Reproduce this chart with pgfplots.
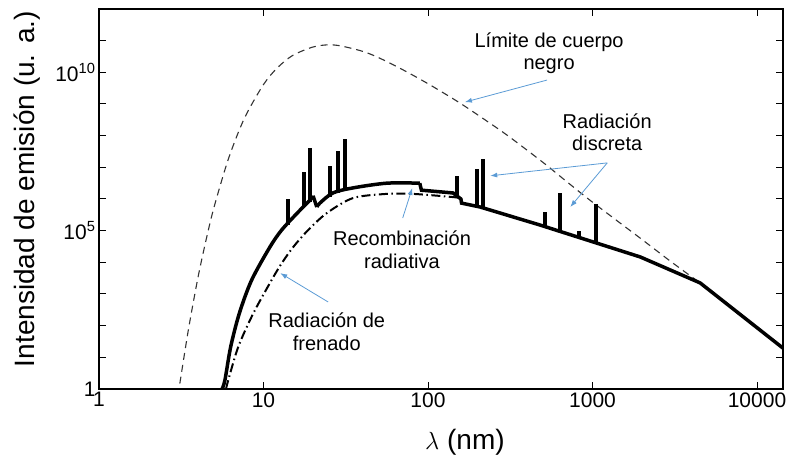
\documentclass[border=0pt]{standalone}
\usepackage{fontspec}
\setmainfont{Liberation Sans}
\usepackage{pgfplots}
\pgfplotsset{compat=1.18}
\usetikzlibrary{arrows.meta}
\definecolor{arrowblue}{RGB}{91,155,213}

\begin{document}
\begin{tikzpicture}
\begin{axis}[
  name=ax,
  scale only axis, width=684bp, height=380bp,
  xmode=log, ymode=log,
  xmin=1, xmax=14390, ymin=1, ymax=1e12,
  xtick={1,10,100,1000,10000}, xticklabels={1,10,100,1000,10000},
  ytick={1,10,100,1e3,1e4,1e5,1e6,1e7,1e8,1e9,1e10,1e11,1e12},
  yticklabels={1,,,,,10\textsuperscript{5},,,,,10\textsuperscript{10},,},
  xminorticks=false, yminorticks=false,
  tick align=inside, major tick length=7bp,
  tick style={black, line width=1bp},
  axis line style={line width=1.2bp},
  tick label style={font=\fontsize{21bp}{25bp}\selectfont},
  xlabel={$\lambda$ (nm)}, ylabel={Intensidad de emisión (u. a.)},
  label style={font=\fontsize{28bp}{32bp}\selectfont},
  xlabel style={at={(axis description cs:0.535,-0.1395)}, anchor=center},
  ylabel style={at={(axis description cs:-0.1045,0.526)}, anchor=center},
]
% blackbody limit
\addplot[black!80, line width=1.1bp, dash pattern=on 7bp off 5bp, smooth] coordinates {
(3.1,1.48) (3.5,77.6) (4,3390) (4.5,5.75e4) (5,5.43e5) (6,1.36e7) (7,1.20e8) (8,5.62e8)
(10,4.12e9) (12,1.31e10) (15,3.39e10) (20,6.31e10) (25,7.41e10) (30,6.70e10) (40,4.61e10)
(50,2.92e10) (70,1.22e10) (100,4.37e9) (150,1.23e9) (200,4.57e8) (300,1.07e8) (500,1.43e7)
(700,3.47e6) (1000,7.94e5) (2000,5.25e4) (3000,1.05e4) (4510,2240)
};
% bremsstrahlung (dash-dot)
\addplot[black, line width=2bp, dash pattern=on 9bp off 3.5bp on 1.5bp off 3.5bp, smooth] coordinates {
(5.92,1) (6.11,1.92) (7.03,21.7) (8.67,245) (11.2,2750) (12.9,9330) (15.2,3.09e4)
(18.7,1.05e5) (24.2,3.55e5) (35.0,1.07e6) (56.2,1.45e6) (81.1,1.45e6) (142,1.15e6) (155,1.07e6)
};
% total emission, rising part
\addplot[black, line width=3.5bp, smooth] coordinates {
(5.60,1) (5.83,1.92) (6.32,21.7) (7.13,245) (8.47,2750) (10.96,3.09e4)
(12.9,1.05e5) (16.0,3.55e5) (19.2,9.33e5) (20.0,1.26e6)
};
\addplot[black, line width=3.5bp] coordinates {(20.0,1.26e6) (21.1,5.6e5)};
\addplot[black, line width=3.5bp, smooth] coordinates {
(21.1,5.6e5) (22.0,7.4e5) (26.4,1.55e6) (35.0,2.24e6) (56.2,3.16e6) (89.1,3.16e6)
};
\addplot[black, line width=3.5bp] coordinates {
(89.1,3.16e6) (91.2,1.9e6) (142,1.55e6) (158.5,1.0e6) (160,7.4e5) (207,5.6e5)
(479,1.51e5) (1950,14800) (4510,2240) (14390,19.5)
};
% discrete lines
\addplot[black, line width=3.5bp] coordinates {(14.1,1.5e5) (14.1,1.0e6)};
\addplot[black, line width=3.5bp] coordinates {(17.6,5.5e5) (17.6,7.08e6)};
\addplot[black, line width=3.5bp] coordinates {(19.2,8.0e5) (19.2,4.07e7)};
\addplot[black, line width=3.5bp] coordinates {(25.4,1.12e6) (25.4,1.10e7)};
\addplot[black, line width=3.5bp] coordinates {(28.4,1.58e6) (28.4,3.31e7)};
\addplot[black, line width=3.5bp] coordinates {(31.3,1.78e6) (31.3,7.76e7)};
\addplot[black, line width=3.5bp] coordinates {(150,1.26e6) (150,5.37e6)};
\addplot[black, line width=3.5bp] coordinates {(199,5.25e5) (199,8.91e6)};
\addplot[black, line width=3.5bp] coordinates {(216,4.79e5) (216,1.82e7)};
\addplot[black, line width=3.5bp] coordinates {(514,1.26e5) (514,3.89e5)};
\addplot[black, line width=3.5bp] coordinates {(634,8.9e4) (634,1.55e6)};
\addplot[black, line width=3.5bp] coordinates {(828,5.75e4) (828,9.77e4)};
\addplot[black, line width=3.5bp] coordinates {(1050,3.8e4) (1050,6.92e5)};
% tick marks on all four sides
\pgfplotsinvokeforeach{0,0.083333,0.166667,0.25,0.333333,0.416667,0.5,0.583333,0.666667,0.75,0.833333,0.916667,1}{
  \draw[black, line width=1bp] (axis description cs:0,#1) -- (axis description cs:0.010234,#1);
  \draw[black, line width=1bp] (axis description cs:1,#1) -- (axis description cs:0.989766,#1);
}
\pgfplotsinvokeforeach{0,0.24049,0.48099,0.72148,0.96198}{
  \draw[black, line width=1bp] (axis description cs:#1,0) -- (axis description cs:#1,0.01842);
  \draw[black, line width=1bp] (axis description cs:#1,1) -- (axis description cs:#1,0.98158);
}
% annotations
\node[align=center, font=\fontsize{20bp}{22bp}\selectfont] at (axis description cs:0.658,0.884) {Límite de cuerpo\\negro};
\draw[arrowblue, line width=0.8bp, -{Latex[length=7bp,width=5bp]}] (axis description cs:0.655,0.813) -- (axis description cs:0.535,0.755);
\node[align=center, font=\fontsize{20bp}{22bp}\selectfont] at (axis description cs:0.743,0.676) {Radiación\\discreta};
\draw[arrowblue, line width=0.8bp, -{Latex[length=7bp,width=5bp]}] (axis description cs:0.743,0.595) -- (axis description cs:0.572,0.561);
\draw[arrowblue, line width=0.8bp, -{Latex[length=7bp,width=5bp]}] (axis description cs:0.743,0.595) -- (axis description cs:0.689,0.479);
\node[align=center, font=\fontsize{20bp}{23bp}\selectfont] at (axis description cs:0.443,0.366) {Recombinación\\radiativa};
\draw[arrowblue, line width=0.8bp, -{Latex[length=7bp,width=5bp]}] (axis description cs:0.444,0.45) -- (axis description cs:0.458,0.529);
\node[align=center, font=\fontsize{20bp}{23bp}\selectfont] at (axis description cs:0.333,0.15) {Radiación de\\frenado};
\draw[arrowblue, line width=0.8bp, -{Latex[length=7bp,width=5bp]}] (axis description cs:0.335,0.229) -- (axis description cs:0.265,0.305);
\end{axis}
\pgfresetboundingbox
\path[use as bounding box] ([xshift=-99bp,yshift=-70bp]ax.south west) rectangle ([xshift=5bp,yshift=9bp]ax.north east);
\end{tikzpicture}
\end{document}
